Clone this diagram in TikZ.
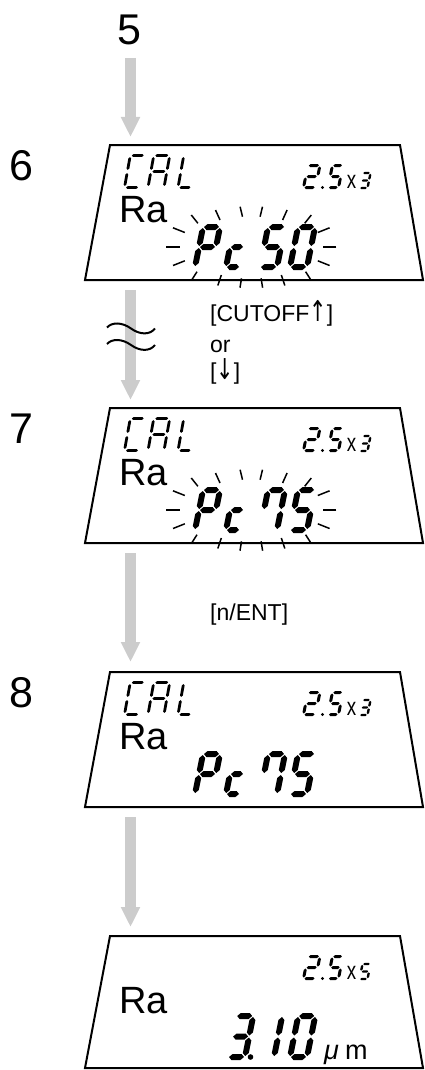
\documentclass[tikz,border=0pt]{standalone}
\usepackage{fontspec}
\usepackage{graphicx}
\setmainfont{Liberation Sans}
\newfontfamily\symfont{DejaVu Sans}
\usetikzlibrary{arrows.meta}
\definecolor{arrowgray}{RGB}{204,204,204}
% seven-segment helpers (local coords: origin bottom-left, y downwards)
\newcommand\hsg[3]{\fill ({#1},{#3}) -- ({#1+\lT/2},{#3-\lT/2}) -- ({#2-\lT/2},{#3-\lT/2}) -- ({#2},{#3}) -- ({#2-\lT/2},{#3+\lT/2}) -- ({#1+\lT/2},{#3+\lT/2}) -- cycle;}
\newcommand\vsg[3]{\fill ({#1},{#2}) -- ({#1+\lT/2},{#2+\lT/2}) -- ({#1+\lT/2},{#3-\lT/2}) -- ({#1},{#3}) -- ({#1-\lT/2},{#3-\lT/2}) -- ({#1-\lT/2},{#2+\lT/2}) -- cycle;}
\expandafter\def\csname lcdsega\endcsname{\hsg{\lG}{\lW-\lG}{-\lH}}
\expandafter\def\csname lcdsegb\endcsname{\vsg{\lW}{-\lH+\lG}{-\lH/2-\lG}}
\expandafter\def\csname lcdsegc\endcsname{\vsg{\lW}{-\lH/2+\lG}{-\lG}}
\expandafter\def\csname lcdsegd\endcsname{\hsg{\lG}{\lW-\lG}{0}}
\expandafter\def\csname lcdsege\endcsname{\vsg{0}{-\lH/2+\lG}{-\lG}}
\expandafter\def\csname lcdsegf\endcsname{\vsg{0}{-\lH+\lG}{-\lH/2-\lG}}
\expandafter\def\csname lcdsegg\endcsname{\hsg{\lG}{\lW-\lG}{-\lH/2}}
% #1 x, #2 y (bottom-left), #3 W, #4 H, #5 thickness, #6 gap, #7 slant, #8 segments
\newcommand\lcd[8]{%
  \begin{scope}[shift={(#1,#2)},xslant=#7]
    \def\lW{#3}\def\lH{#4}\def\lT{#5}\def\lG{#6}%
    \foreach \s in {#8}{\csname lcdseg\s\endcsname}
  \end{scope}}
\newcommand\rayset[2]{%
  \begin{scope}[shift={(#1,#2)}]
    \foreach \sx in {-1,1}{
      \draw[ray] ({\sx*11.2},-40.3) -- ({\sx*8.8},-30.3);
      \draw[ray] ({\sx*35.8},-37) -- ({\sx*31.3},-27);
      \draw[ray] ({\sx*60},-32) -- ({\sx*53.4},-23.7);
      \draw[ray] ({\sx*78.3},-19.2) -- ({\sx*66.5},-14.5);
      \draw[ray] ({\sx*85},0) -- ({\sx*71.5},0);
      \draw[ray] ({\sx*78.3},18.5) -- ({\sx*66.5},13.8);
      \draw[ray] ({\sx*54.3},24.7) -- ({\sx*59.6},33);
      \draw[ray] ({\sx*30},28) -- ({\sx*33.5},38.5);
      \draw[ray] ({\sx*9.8},31.3) -- ({\sx*11.3},40.7);
    }
  \end{scope}}
\newcommand\calword[1]{%
  \begin{scope}[shift={(0,#1)}]
    \lcd{124.5}{187.5}{15}{32}{2.8}{1.6}{0.18}{a,f,e,d}
    \lcd{148}{187.5}{16}{32}{2.8}{1.6}{0.18}{a,b,c,e,f,g}
    \lcd{178}{187.5}{14}{32}{2.8}{1.6}{0.18}{f,e,d}
  \end{scope}}
\newcommand\rangehead[3]{%
  \begin{scope}[shift={(0,#1)}]
    \lcd{303.5}{187.5}{12}{22}{3}{1}{0.2}{a,b,g,e,d}
    \fill (322.5,187.5) circle (1.7);
    \lcd{328}{187.5}{10.5}{22}{3}{1}{0.2}{a,f,g,c,d}
    \node[smallx] (#3) at (351.5,188.5) {x};
    \lcd{359.5}{188}{8}{15}{2.4}{0.8}{0.2}{#2}
  \end{scope}}
\newcommand\bigpc[3]{% #1 y offset, #2 third char, #3 fourth char
  \begin{scope}[shift={(0,#1)}]
    \lcd{195}{267}{17}{40}{6}{1}{0.2}{a,b,f,g,e}
    \lcd{226}{267}{14}{40}{6}{1}{0.2}{g,e,d}
    \lcd{260}{267}{17}{40}{6}{1}{0.2}{#2}
    \lcd{290}{267}{17}{40}{6}{1}{0.2}{#3}
  \end{scope}}
\begin{document}
\begin{tikzpicture}[x=1pt,y=-1pt,
  lcdbox/.style={draw=black,line width=2pt,line join=miter},
  flowarrow/.style={draw=arrowgray,line width=11pt,-{Triangle[width=18pt,length=20pt]}},
  ray/.style={line width=1.5pt},
  stepnum/.style={font=\fontsize{43}{43}\selectfont,inner sep=0pt,anchor=base},
  ratext/.style={font=\fontsize{38}{38}\selectfont,inner sep=0pt,anchor=base west},
  keytext/.style={font=\fontsize{23}{23}\selectfont,inner sep=0pt,anchor=base west},
  smallx/.style={font=\fontsize{25}{25}\selectfont,inner sep=0pt,anchor=base,xscale=0.75},
  unittext/.style={font=\fontsize{27}{27}\selectfont,inner sep=0pt,anchor=base west},
  wave/.style={line width=2pt}]
\useasboundingbox (0,0) rectangle (424,1070);

% step numbers
\node[stepnum] (n5) at (129.5,45) {5};
\node[stepnum] (n6) at (21.5,180) {6};
\node[stepnum] (n7) at (21.5,443) {7};
\node[stepnum] (n8) at (21.5,707) {8};

% arrow end points
\coordinate (a1s) at (130.5,58);  \coordinate (a1e) at (130.5,137);
\coordinate (a2s) at (130.5,290); \coordinate (a2e) at (130.5,400);
\coordinate (a3s) at (130.5,553); \coordinate (a3e) at (130.5,662);
\coordinate (a4s) at (130.5,817); \coordinate (a4e) at (130.5,927);
\draw[flowarrow] (a1s) -- (a1e);
\draw[flowarrow] (a2s) -- (a2e);
\draw[flowarrow] (a3s) -- (a3e);
\draw[flowarrow] (a4s) -- (a4e);

% wavy "skip" mark
\draw[wave] (107,327.5) .. controls (112,322) and (122,322) .. (131,328.5) .. controls (140,335) and (150,335) .. (155,328.5);
\draw[wave] (107,344) .. controls (112,338.5) and (122,338.5) .. (131,345) .. controls (140,351.5) and (150,351.5) .. (155,345);

% key labels
\node[keytext] (k1) at (210,321) {[CUTOFF{\symfont\scalebox{0.9}[1.25]{↑}}]};
\node[keytext] (k2) at (210,352) {or};
\node[keytext] (k3) at (210,379) {[{\symfont\scalebox{0.9}[1.25]{↓}}]};
\node[keytext] (k4) at (210,620) {[n/ENT]};

% display 6
\draw[lcdbox] (110,145) -- (400,145) -- (423,280) -- (85,280) -- cycle;
\calword{0}
\rangehead{0}{a,b,g,c,d}{x6}
\node[ratext] (ra6) at (119,222) {Ra};
\bigpc{0}{a,f,g,c,d}{a,b,c,d,e,f}
\rayset{251.3}{247}

% display 7
\draw[lcdbox] (110,408) -- (400,408) -- (423,543) -- (85,543) -- cycle;
\calword{263}
\rangehead{263}{a,b,g,c,d}{x7}
\node[ratext] (ra7) at (119,485) {Ra};
\bigpc{263}{a,b,c,f}{a,f,g,c,d}
\rayset{251.3}{510}

% display 8
\draw[lcdbox] (110,672) -- (400,672) -- (423,807) -- (85,807) -- cycle;
\calword{527}
\rangehead{527}{a,b,g,c,d}{x8}
\node[ratext] (ra8) at (119,749) {Ra};
\bigpc{527}{a,b,c,f}{a,f,g,c,d}

% final display
\draw[lcdbox] (110,936) -- (400,936) -- (423,1068) -- (85,1068) -- cycle;
\rangehead{791}{a,f,g,c,d}{x9}
\node[ratext] (ra9) at (119,1013) {Ra};
\lcd{228}{1057}{17}{41}{6}{1}{0.2}{a,b,g,c,d}
\fill (250.5,1057) circle (2.8);
\lcd{257}{1057}{17}{41}{6}{1}{0.2}{b,c}
\lcd{290}{1057}{17}{41}{6}{1}{0.2}{a,b,c,d,e,f}
\node[unittext] (mu) at (324,1059) {\itshape μ};
\node[unittext] (mm) at (345,1059) {m};
\end{tikzpicture}
\end{document}
